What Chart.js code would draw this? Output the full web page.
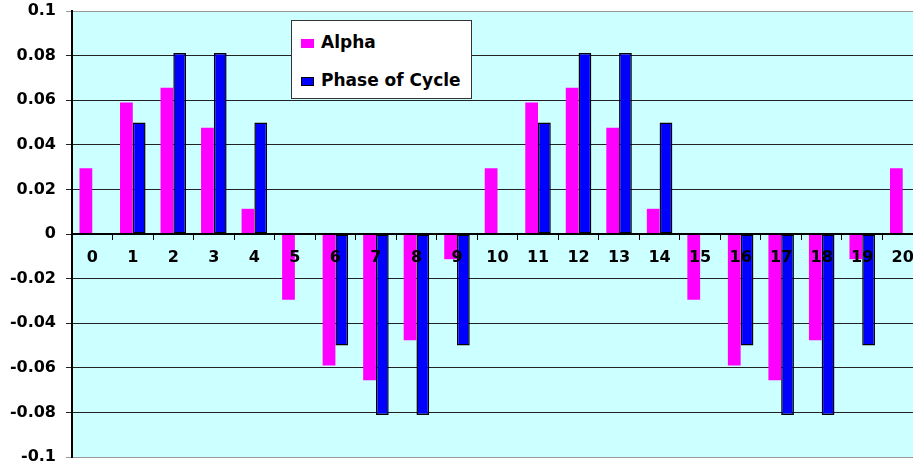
<!DOCTYPE html>
<html>
<head>
<meta charset="utf-8">
<script src="https://cdn.jsdelivr.net/npm/chart.js@4/dist/chart.umd.min.js"></script>
<style>
  html, body { margin: 0; padding: 0; background: #ffffff; overflow: hidden; }
  #wrap { position: relative; width: 913px; height: 468px; overflow: hidden; }
  #chart { position: absolute; left: 0; top: 0; }
  #legend {
    position: absolute; left: 291px; top: 20px; width: 179px; height: 77px;
    background: #ffffff; border: 1px solid #333333;
    font-family: "DejaVu Sans", sans-serif; font-weight: bold; font-size: 17px; color: #000;
  }
  .item { position: absolute; left: 9px; height: 20px; line-height: 20px; white-space: nowrap; }
  .swatch { display: inline-block; width: 13px; height: 9px; margin-right: 7px; vertical-align: 0px; box-sizing: border-box; }
</style>
</head>
<body>
<div id="wrap">
  <canvas id="chart" width="923" height="468"></canvas>
  <div id="legend"></div>
</div>
<script>
// Cycle positions along the x axis
const categories = ['0','1','2','3','4','5','6','7','8','9','10','11','12','13','14','15','16','17','18','19','20'];

// Series values
const alpha = [0.0295, 0.059, 0.0656, 0.0477, 0.0113, -0.0295, -0.059, -0.0656, -0.0477, -0.0113,
               0.0295, 0.059, 0.0656, 0.0477, 0.0113, -0.0295, -0.059, -0.0656, -0.0477, -0.0113, 0.0295];
const phaseOfCycle = [0, 0.05, 0.0812, 0.0812, 0.05, 0, -0.05, -0.0812, -0.0812, -0.05,
                      0, 0.05, 0.0812, 0.0812, 0.05, 0, -0.05, -0.0812, -0.0812, -0.05, 0];

// Value axis labels, bottom to top
const yTickLabels = ['-0.1', '-0.08', '-0.06', '-0.04', '-0.02', '0', '0.02', '0.04', '0.06', '0.08', '0.1'];

const AXIS_FONT = { family: '"DejaVu Sans", sans-serif', weight: 'bold', size: 16 };

// Light cyan fill behind the plot area
const plotBackground = {
  id: 'plotBackground',
  beforeDraw(chart) {
    const { ctx, chartArea: a } = chart;
    ctx.save();
    ctx.fillStyle = '#ccffff';
    ctx.fillRect(a.left, a.top, a.right - a.left, a.bottom - a.top);
    ctx.restore();
  }
};

const chart = new Chart(document.getElementById('chart'), {
  type: 'bar',
  data: {
    labels: categories,
    datasets: [
      { label: 'Alpha', data: alpha, backgroundColor: '#ff00ff', borderWidth: 0 },
      { label: 'Phase of Cycle', data: phaseOfCycle, backgroundColor: '#0000ff',
        borderColor: '#000000', borderWidth: 1.5, borderSkipped: false }
    ]
  },
  options: {
    responsive: false,
    animation: false,
    layout: { padding: { top: 11, right: 0, bottom: 11, left: 0 } },
    datasets: { bar: { categoryPercentage: 0.63, barPercentage: 1.0 } },
    plugins: { legend: { display: false }, tooltip: { enabled: false } },
    scales: {
      x: {
        position: { y: 0 },
        offset: true,
        grid: { offset: true, drawOnChartArea: false, drawTicks: true, tickLength: 5, color: '#000000', lineWidth: 1, z: 1 },
        border: { display: true, color: '#000000', width: 2, z: 1 },
        ticks: { color: '#000000', font: AXIS_FONT, padding: 9, maxRotation: 0, autoSkip: false, z: 1 }
      },
      y: {
        min: -0.1,
        max: 0.1,
        afterFit(scale) {
          scale.width = 72;
          scale.paddingTop = 0;
          scale.paddingBottom = 0;
        },
        grid: {
          drawTicks: true,
          tickLength: 6,
          color: (c) => {
            const v = c.tick ? c.tick.value : 0;
            if (Math.abs(Math.abs(v) - 0.1) < 1e-9) return '#999999';
            return '#222222';
          },
          lineWidth: 1
        },
        border: { display: true, color: '#000000', width: 2 },
        ticks: {
          stepSize: 0.02,
          color: '#000000',
          font: AXIS_FONT,
          padding: 10,
          callback: (v, i) => yTickLabels[i]
        }
      }
    }
  },
  plugins: [plotBackground]
});

// Legend box built from the chart's datasets
const legend = document.getElementById('legend');
chart.data.datasets.forEach((ds, i) => {
  const item = document.createElement('div');
  item.className = 'item';
  item.style.top = (i === 0 ? 11 : 49) + 'px';
  const sw = document.createElement('span');
  sw.className = 'swatch';
  sw.style.background = ds.backgroundColor;
  if (ds.borderWidth) sw.style.border = '1px solid #000';
  item.appendChild(sw);
  item.appendChild(document.createTextNode(ds.label));
  legend.appendChild(item);
});
</script>
</body>
</html>
